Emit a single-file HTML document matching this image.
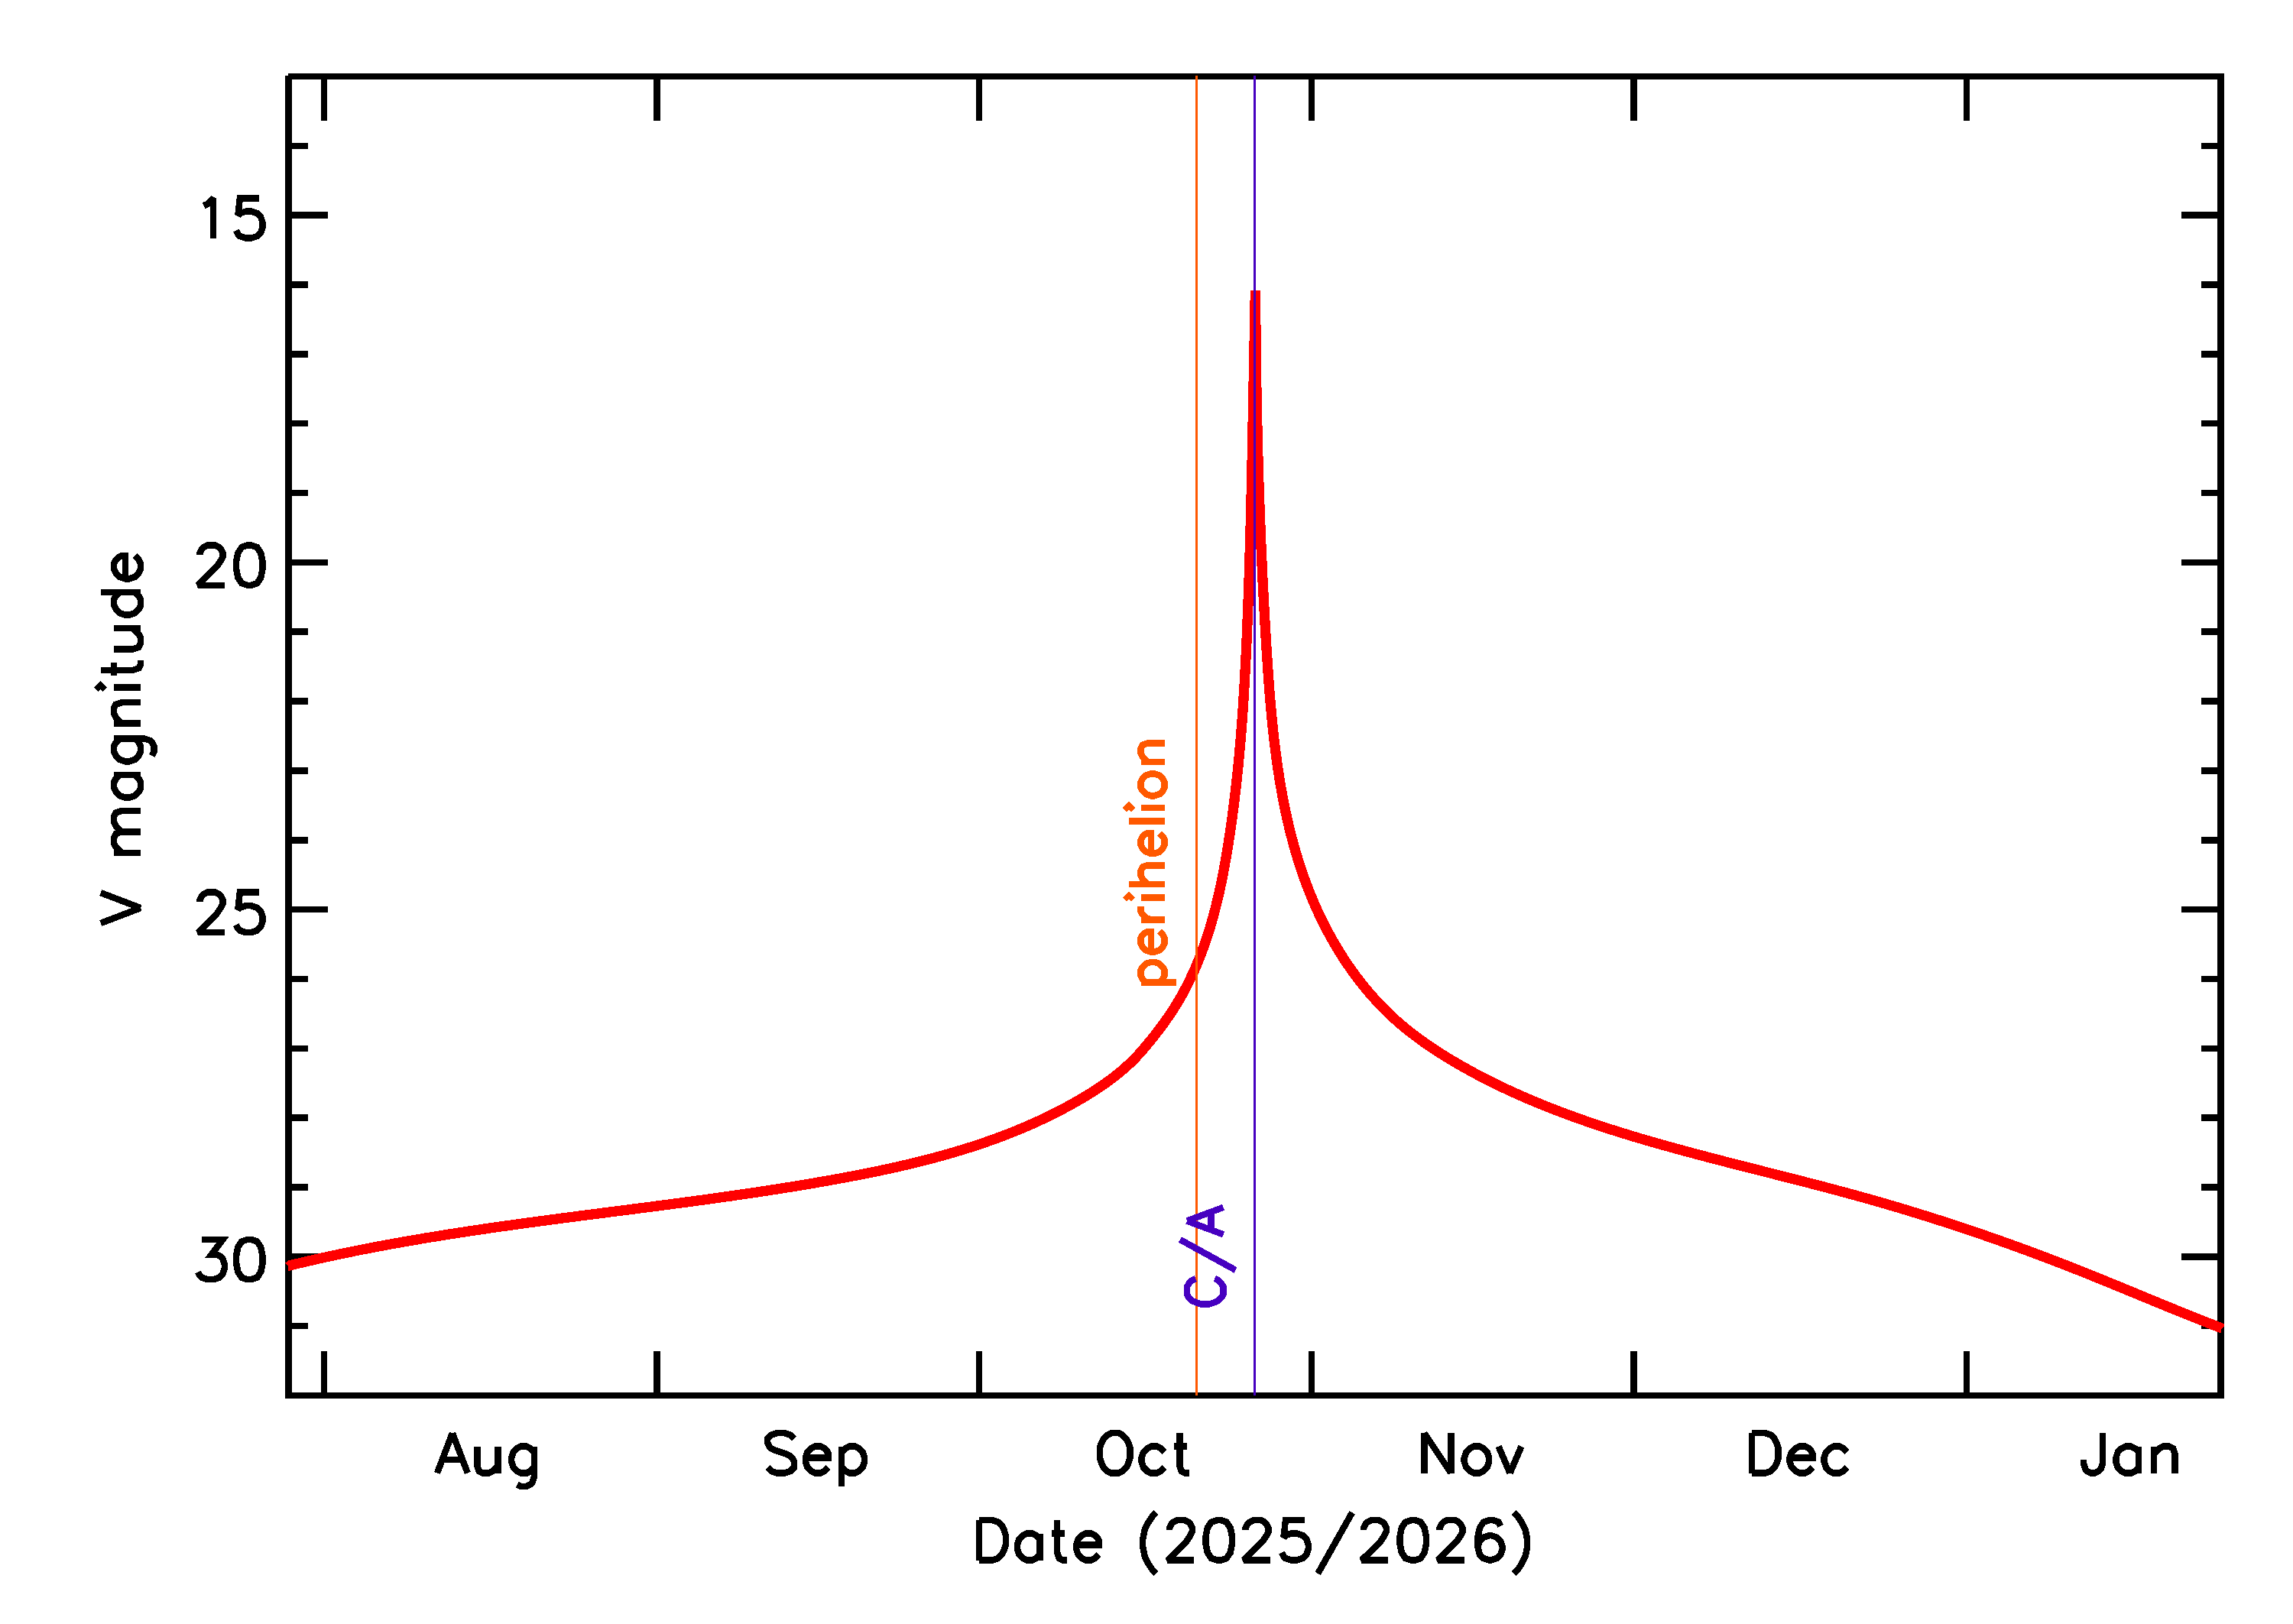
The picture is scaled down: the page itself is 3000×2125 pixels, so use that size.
<!DOCTYPE html>
<html><head><meta charset="utf-8"><title>V magnitude</title>
<style>html,body{margin:0;padding:0;background:#fff;overflow:hidden;}svg{display:block;}</style></head>
<body><svg width="3000" height="2125" viewBox="0 0 3000 2125" shape-rendering="crispEdges">
<rect x="0" y="0" width="3000" height="2125" fill="#fff"/>
<g fill="#000"><rect x="377.00" y="95.75" width="2532.75" height="8.50" fill="#000"/><rect x="373.25" y="1821.75" width="2536.50" height="8.50" fill="#000"/><rect x="373.25" y="99.00" width="8.50" height="1731.25" fill="#000"/><rect x="2901.25" y="95.75" width="8.50" height="1734.50" fill="#000"/><rect x="419.75" y="100.00" width="8.50" height="58.00" fill="#000"/><rect x="419.75" y="1768.00" width="8.50" height="58.00" fill="#000"/><rect x="855.18" y="100.00" width="8.50" height="58.00" fill="#000"/><rect x="855.18" y="1768.00" width="8.50" height="58.00" fill="#000"/><rect x="1276.56" y="100.00" width="8.50" height="58.00" fill="#000"/><rect x="1276.56" y="1768.00" width="8.50" height="58.00" fill="#000"/><rect x="1711.98" y="100.00" width="8.50" height="58.00" fill="#000"/><rect x="1711.98" y="1768.00" width="8.50" height="58.00" fill="#000"/><rect x="2133.36" y="100.00" width="8.50" height="58.00" fill="#000"/><rect x="2133.36" y="1768.00" width="8.50" height="58.00" fill="#000"/><rect x="2568.79" y="100.00" width="8.50" height="58.00" fill="#000"/><rect x="2568.79" y="1768.00" width="8.50" height="58.00" fill="#000"/><rect x="377.50" y="186.59" width="25.50" height="8.50" fill="#000"/><rect x="2880.00" y="186.59" width="25.50" height="8.50" fill="#000"/><rect x="377.50" y="277.43" width="51.50" height="8.50" fill="#000"/><rect x="2854.00" y="277.43" width="51.50" height="8.50" fill="#000"/><rect x="377.50" y="368.28" width="25.50" height="8.50" fill="#000"/><rect x="2880.00" y="368.28" width="25.50" height="8.50" fill="#000"/><rect x="377.50" y="459.12" width="25.50" height="8.50" fill="#000"/><rect x="2880.00" y="459.12" width="25.50" height="8.50" fill="#000"/><rect x="377.50" y="549.96" width="25.50" height="8.50" fill="#000"/><rect x="2880.00" y="549.96" width="25.50" height="8.50" fill="#000"/><rect x="377.50" y="640.80" width="25.50" height="8.50" fill="#000"/><rect x="2880.00" y="640.80" width="25.50" height="8.50" fill="#000"/><rect x="377.50" y="731.64" width="51.50" height="8.50" fill="#000"/><rect x="2854.00" y="731.64" width="51.50" height="8.50" fill="#000"/><rect x="377.50" y="822.49" width="25.50" height="8.50" fill="#000"/><rect x="2880.00" y="822.49" width="25.50" height="8.50" fill="#000"/><rect x="377.50" y="913.33" width="25.50" height="8.50" fill="#000"/><rect x="2880.00" y="913.33" width="25.50" height="8.50" fill="#000"/><rect x="377.50" y="1004.17" width="25.50" height="8.50" fill="#000"/><rect x="2880.00" y="1004.17" width="25.50" height="8.50" fill="#000"/><rect x="377.50" y="1095.01" width="25.50" height="8.50" fill="#000"/><rect x="2880.00" y="1095.01" width="25.50" height="8.50" fill="#000"/><rect x="377.50" y="1185.86" width="51.50" height="8.50" fill="#000"/><rect x="2854.00" y="1185.86" width="51.50" height="8.50" fill="#000"/><rect x="377.50" y="1276.70" width="25.50" height="8.50" fill="#000"/><rect x="2880.00" y="1276.70" width="25.50" height="8.50" fill="#000"/><rect x="377.50" y="1367.54" width="25.50" height="8.50" fill="#000"/><rect x="2880.00" y="1367.54" width="25.50" height="8.50" fill="#000"/><rect x="377.50" y="1458.38" width="25.50" height="8.50" fill="#000"/><rect x="2880.00" y="1458.38" width="25.50" height="8.50" fill="#000"/><rect x="377.50" y="1549.22" width="25.50" height="8.50" fill="#000"/><rect x="2880.00" y="1549.22" width="25.50" height="8.50" fill="#000"/><rect x="377.50" y="1640.07" width="51.50" height="8.50" fill="#000"/><rect x="2854.00" y="1640.07" width="51.50" height="8.50" fill="#000"/><rect x="377.50" y="1730.91" width="25.50" height="8.50" fill="#000"/><rect x="2880.00" y="1730.91" width="25.50" height="8.50" fill="#000"/></g>
<path fill="none" stroke="#ff0000" stroke-width="13.3" stroke-linejoin="bevel" stroke-linecap="butt" d="M377.39 1656.27L380.45 1655.52L383.51 1654.78L386.57 1654.04L389.64 1653.31L392.70 1652.59L395.76 1651.86L398.83 1651.15L401.89 1650.44L404.96 1649.73L408.03 1649.03L411.09 1648.33L414.16 1647.64L417.23 1646.95L420.30 1646.27L423.37 1645.59L426.43 1644.91L429.50 1644.24L432.58 1643.58L435.65 1642.92L438.72 1642.26L441.79 1641.61L444.86 1640.96L447.94 1640.32L451.01 1639.68L454.08 1639.04L457.16 1638.41L460.23 1637.78L463.31 1637.16L466.39 1636.54L469.46 1635.93L472.54 1635.32L475.62 1634.71L478.70 1634.11L481.77 1633.51L484.85 1632.91L487.93 1632.32L491.01 1631.74L494.09 1631.15L497.17 1630.57L500.26 1630.00L503.34 1629.42L506.42 1628.85L509.50 1628.29L512.59 1627.73L515.67 1627.17L518.75 1626.61L521.84 1626.06L524.92 1625.51L528.01 1624.97L531.09 1624.42L534.18 1623.89L537.26 1623.35L540.35 1622.82L543.44 1622.29L546.52 1621.76L549.61 1621.24L552.70 1620.72L555.79 1620.20L558.88 1619.69L561.97 1619.18L565.06 1618.67L568.15 1618.17L571.24 1617.66L574.33 1617.16L577.42 1616.67L580.51 1616.17L583.60 1615.68L586.69 1615.19L589.79 1614.70L592.88 1614.22L595.97 1613.74L599.06 1613.26L602.16 1612.78L605.25 1612.31L608.35 1611.84L611.44 1611.37L614.53 1610.90L617.63 1610.44L620.73 1609.97L623.82 1609.51L626.92 1609.06L630.01 1608.60L633.11 1608.14L636.21 1607.69L639.30 1607.24L642.40 1606.79L645.50 1606.35L648.60 1605.90L651.69 1605.46L654.79 1605.02L657.89 1604.58L660.99 1604.14L664.09 1603.71L667.19 1603.27L670.29 1602.84L673.39 1602.41L676.49 1601.98L679.59 1601.55L682.69 1601.13L685.79 1600.70L688.89 1600.28L691.99 1599.86L695.09 1599.44L698.19 1599.02L701.29 1598.60L704.39 1598.18L707.49 1597.77L710.60 1597.35L713.70 1596.94L716.80 1596.53L719.90 1596.12L723.00 1595.70L726.11 1595.30L729.21 1594.89L732.31 1594.48L735.42 1594.07L738.52 1593.67L741.62 1593.26L744.73 1592.86L747.83 1592.45L750.93 1592.05L754.04 1591.65L757.14 1591.24L760.25 1590.84L763.35 1590.44L766.45 1590.04L769.56 1589.64L772.66 1589.24L775.77 1588.84L778.87 1588.44L781.98 1588.04L785.08 1587.65L788.19 1587.25L791.29 1586.85L794.40 1586.45L797.50 1586.05L800.61 1585.66L803.71 1585.26L806.82 1584.86L809.92 1584.46L813.03 1584.07L816.13 1583.67L819.24 1583.27L822.34 1582.87L825.45 1582.47L828.55 1582.07L831.66 1581.67L834.77 1581.27L837.87 1580.87L840.98 1580.47L844.08 1580.07L847.19 1579.67L850.29 1579.27L853.40 1578.87L856.50 1578.46L859.61 1578.06L862.71 1577.66L865.82 1577.25L868.92 1576.85L872.03 1576.44L875.14 1576.03L878.24 1575.62L881.35 1575.21L884.45 1574.80L887.56 1574.39L890.66 1573.98L893.77 1573.57L896.87 1573.15L899.98 1572.74L903.08 1572.32L906.19 1571.90L909.29 1571.48L912.39 1571.06L915.50 1570.64L918.60 1570.22L921.71 1569.80L924.81 1569.37L927.92 1568.94L931.02 1568.51L934.12 1568.08L937.23 1567.65L940.33 1567.22L943.43 1566.78L946.54 1566.35L949.64 1565.91L952.74 1565.47L955.85 1565.03L958.95 1564.58L962.05 1564.14L965.15 1563.69L968.26 1563.24L971.36 1562.79L974.46 1562.34L977.56 1561.88L980.66 1561.42L983.77 1560.96L986.87 1560.50L989.97 1560.04L993.07 1559.57L996.17 1559.10L999.27 1558.63L1002.37 1558.16L1005.47 1557.68L1008.57 1557.20L1011.67 1556.72L1014.77 1556.24L1017.87 1555.76L1020.97 1555.27L1024.07 1554.78L1027.17 1554.28L1030.26 1553.79L1033.36 1553.29L1036.46 1552.79L1039.56 1552.28L1042.66 1551.78L1045.75 1551.27L1048.85 1550.75L1051.95 1550.24L1055.04 1549.72L1058.14 1549.20L1061.23 1548.67L1064.33 1548.14L1067.42 1547.61L1070.52 1547.08L1073.61 1546.54L1076.71 1546.00L1079.80 1545.46L1082.90 1544.91L1085.99 1544.36L1089.08 1543.80L1092.18 1543.25L1095.27 1542.69L1098.36 1542.12L1101.45 1541.55L1104.54 1540.98L1107.63 1540.40L1110.72 1539.82L1113.81 1539.24L1116.90 1538.65L1119.99 1538.06L1123.08 1537.46L1126.16 1536.86L1129.25 1536.25L1132.33 1535.64L1135.41 1535.02L1138.49 1534.40L1141.57 1533.78L1144.65 1533.14L1147.73 1532.51L1150.81 1531.86L1153.88 1531.21L1156.96 1530.56L1160.03 1529.90L1163.10 1529.23L1166.17 1528.56L1169.23 1527.88L1172.30 1527.20L1175.36 1526.51L1178.42 1525.81L1181.48 1525.11L1184.54 1524.39L1187.59 1523.68L1190.65 1522.95L1193.70 1522.22L1196.75 1521.48L1199.79 1520.74L1202.84 1519.98L1205.88 1519.22L1208.92 1518.45L1211.95 1517.68L1214.99 1516.89L1218.02 1516.10L1221.05 1515.30L1224.07 1514.49L1227.10 1513.68L1230.12 1512.85L1233.14 1512.02L1236.15 1511.17L1239.16 1510.32L1242.17 1509.46L1245.17 1508.60L1248.18 1507.72L1251.17 1506.83L1254.17 1505.94L1257.16 1505.03L1260.15 1504.12L1263.13 1503.19L1266.12 1502.26L1269.09 1501.31L1272.07 1500.36L1275.04 1499.40L1278.00 1498.42L1280.97 1497.44L1283.93 1496.44L1286.88 1495.44L1289.83 1494.42L1292.78 1493.40L1295.72 1492.36L1298.66 1491.31L1301.59 1490.25L1304.52 1489.18L1307.45 1488.10L1310.37 1487.01L1313.29 1485.90L1316.20 1484.79L1319.11 1483.66L1322.01 1482.52L1324.91 1481.37L1327.80 1480.20L1330.69 1479.03L1333.57 1477.84L1336.45 1476.64L1339.33 1475.43L1342.19 1474.20L1345.06 1472.96L1347.92 1471.71L1350.77 1470.45L1353.62 1469.17L1356.46 1467.88L1359.30 1466.58L1362.13 1465.26L1364.96 1463.93L1367.78 1462.59L1370.59 1461.23L1373.40 1459.86L1376.20 1458.48L1379.00 1457.08L1381.79 1455.66L1384.58 1454.24L1387.36 1452.79L1390.14 1451.34L1392.90 1449.87L1395.67 1448.38L1398.42 1446.88L1401.17 1445.37L1403.91 1443.84L1406.65 1442.29L1409.38 1440.73L1412.11 1439.15L1414.82 1437.56L1417.53 1435.96L1420.24 1434.33L1422.93 1432.69L1425.62 1431.04L1428.29 1429.36L1430.95 1427.67L1433.60 1425.96L1436.24 1424.23L1438.86 1422.48L1441.47 1420.71L1444.07 1418.92L1446.64 1417.11L1449.20 1415.28L1451.74 1413.42L1454.26 1411.54L1456.76 1409.64L1459.24 1407.72L1461.70 1405.77L1464.13 1403.80L1466.54 1401.81L1468.92 1399.79L1471.28 1397.74L1473.62 1395.67L1475.92 1393.57L1478.20 1391.44L1480.44 1389.29L1482.66 1387.11L1484.85 1384.90L1487.00 1382.66L1489.12 1380.39L1491.21 1378.09L1493.27 1375.76L1495.31 1373.42L1497.34 1371.05L1499.35 1368.66L1501.35 1366.26L1503.35 1363.85L1505.34 1361.42L1507.31 1358.98L1509.27 1356.52L1511.23 1354.05L1513.16 1351.56L1515.09 1349.06L1517.00 1346.54L1518.89 1344.01L1520.77 1341.47L1522.63 1338.92L1524.47 1336.35L1526.29 1333.77L1528.10 1331.18L1529.88 1328.57L1531.64 1325.95L1533.38 1323.32L1535.10 1320.68L1536.79 1318.02L1538.46 1315.35L1540.10 1312.67L1541.72 1309.98L1543.31 1307.28L1544.88 1304.57L1546.42 1301.85L1547.94 1299.11L1549.43 1296.37L1550.90 1293.61L1552.34 1290.84L1553.76 1288.07L1555.16 1285.28L1556.54 1282.49L1557.89 1279.68L1559.22 1276.86L1560.53 1274.04L1561.82 1271.20L1563.08 1268.36L1564.33 1265.51L1565.55 1262.65L1566.75 1259.78L1567.93 1256.90L1569.09 1254.01L1570.24 1251.12L1571.36 1248.21L1572.46 1245.30L1573.54 1242.38L1574.61 1239.46L1575.65 1236.52L1576.68 1233.58L1577.69 1230.63L1578.68 1227.68L1579.65 1224.71L1580.61 1221.75L1581.55 1218.77L1582.47 1215.79L1583.38 1212.80L1584.27 1209.81L1585.14 1206.81L1586.00 1203.80L1586.84 1200.79L1587.67 1197.78L1588.49 1194.75L1589.28 1191.73L1590.07 1188.70L1590.84 1185.66L1591.59 1182.62L1592.34 1179.57L1593.07 1176.52L1593.78 1173.47L1594.49 1170.41L1595.18 1167.35L1595.86 1164.29L1596.52 1161.22L1597.18 1158.14L1597.82 1155.07L1598.46 1151.99L1599.08 1148.91L1599.69 1145.82L1600.29 1142.74L1600.88 1139.65L1601.47 1136.56L1602.04 1133.46L1602.60 1130.37L1603.15 1127.27L1603.70 1124.17L1604.24 1121.07L1604.76 1117.97L1605.28 1114.86L1605.80 1111.76L1606.30 1108.66L1606.80 1105.55L1607.29 1102.44L1607.78 1099.34L1608.26 1096.23L1608.73 1093.12L1609.20 1090.01L1609.66 1086.91L1610.11 1083.80L1610.56 1080.69L1611.00 1077.58L1611.43 1074.47L1611.86 1071.36L1612.29 1068.25L1612.70 1065.14L1613.12 1062.03L1613.52 1058.92L1613.92 1055.80L1614.32 1052.69L1614.71 1049.58L1615.09 1046.47L1615.47 1043.35L1615.84 1040.24L1616.21 1037.13L1616.57 1034.01L1616.93 1030.90L1617.28 1027.79L1617.62 1024.67L1617.96 1021.56L1618.30 1018.44L1618.63 1015.32L1618.96 1012.21L1619.28 1009.09L1619.60 1005.98L1619.91 1002.86L1620.21 999.74L1620.52 996.62L1620.81 993.51L1621.11 990.39L1621.40 987.27L1621.68 984.15L1621.96 981.03L1622.24 977.91L1622.51 974.80L1622.77 971.68L1623.04 968.56L1623.30 965.44L1623.55 962.32L1623.80 959.20L1624.05 956.07L1624.29 952.95L1624.53 949.83L1624.77 946.71L1625.00 943.59L1625.22 940.47L1625.45 937.34L1625.67 934.22L1625.89 931.10L1626.10 927.98L1626.31 924.85L1626.52 921.73L1626.72 918.61L1626.92 915.48L1627.12 912.36L1627.32 909.23L1627.51 906.11L1627.69 902.99L1627.88 899.86L1628.06 896.74L1628.24 893.61L1628.42 890.48L1628.59 887.36L1628.76 884.23L1628.93 881.11L1629.10 877.98L1629.26 874.86L1629.43 871.73L1629.58 868.60L1629.74 865.47L1629.90 862.35L1630.05 859.22L1630.20 856.09L1630.35 852.97L1630.49 849.84L1630.64 846.71L1630.78 843.58L1630.92 840.45L1631.06 837.33L1631.19 834.20L1631.33 831.07L1631.46 827.94L1631.59 824.81L1631.72 821.68L1631.85 818.55L1631.98 815.42L1632.10 812.29L1632.22 809.16L1632.35 806.03L1632.47 802.90L1632.59 799.77L1632.71 796.64L1632.83 793.51L1632.94 790.38L1633.06 787.25L1633.17 784.12L1633.28 780.99L1633.40 777.86L1633.51 774.73L1633.62 771.60L1633.72 768.47L1633.83 765.34L1633.94 762.21L1634.04 759.07L1634.15 755.94L1634.25 752.81L1634.35 749.68L1634.45 746.55L1634.55 743.42L1634.65 740.28L1634.75 737.15L1634.84 734.02L1634.94 730.89L1635.03 727.76L1635.13 724.62L1635.22 721.49L1635.31 718.36L1635.40 715.23L1635.49 712.09L1635.58 708.96L1635.67 705.83L1635.76 702.69L1635.84 699.56L1635.93 696.43L1636.01 693.30L1636.10 690.16L1636.18 687.03L1636.26 683.90L1636.34 680.76L1636.42 677.63L1636.50 674.50L1636.58 671.36L1636.66 668.23L1636.74 665.10L1636.82 661.96L1636.89 658.83L1636.97 655.70L1637.04 652.56L1637.12 649.43L1637.19 646.29L1637.26 643.16L1637.34 640.03L1637.41 636.89L1637.48 633.76L1637.55 630.63L1637.62 627.49L1637.69 624.36L1637.76 621.22L1637.83 618.09L1637.90 614.96L1637.96 611.82L1638.03 608.69L1638.10 605.55L1638.16 602.42L1638.23 599.29L1638.29 596.15L1638.36 593.02L1638.42 589.89L1638.49 586.75L1638.55 583.62L1638.61 580.48L1638.67 577.35L1638.74 574.22L1638.80 571.08L1638.86 567.95L1638.92 564.81L1638.98 561.68L1639.04 558.55L1639.10 555.41L1639.16 552.28L1639.22 549.15L1639.28 546.01L1639.34 542.88L1639.40 539.74L1639.46 536.61L1639.52 533.48L1639.58 530.34L1639.64 527.21L1639.70 524.08L1639.76 520.94L1639.81 517.81L1639.87 514.68L1639.93 511.54L1639.99 508.41L1640.05 505.28L1640.10 502.15L1640.16 499.01L1640.22 495.88L1640.28 492.75L1640.34 489.61L1640.39 486.48L1640.45 483.35L1640.51 480.22L1640.57 477.08L1640.62 473.95L1640.68 470.82L1640.74 467.69L1640.80 464.55L1640.86 461.42L1640.92 458.29L1640.97 455.16L1641.03 452.03L1641.09 448.89L1641.15 445.76L1641.21 442.63L1641.27 439.50L1641.33 436.37L1641.39 433.24L1641.45 430.11L1641.51 426.97L1641.57 423.84L1641.63 420.71L1641.69 417.58L1641.75 414.45L1641.81 411.32L1641.88 408.19L1641.94 405.06L1642.00 401.93L1642.06 398.80L1642.13 395.67L1642.19 392.54L1642.26 389.41L1642.32 386.28L1642.39 383.15L1642.45 380.02L1642.60 382.81L1642.61 385.93L1642.63 389.05L1642.64 392.16L1642.66 395.28L1642.68 398.39L1642.69 401.50L1642.71 404.62L1642.73 407.73L1642.75 410.84L1642.77 413.95L1642.80 417.06L1642.82 420.16L1642.84 423.27L1642.87 426.37L1642.90 429.48L1642.92 432.58L1642.95 435.68L1642.98 438.79L1643.01 441.89L1643.04 444.99L1643.07 448.09L1643.11 451.18L1643.14 454.28L1643.18 457.38L1643.21 460.47L1643.25 463.57L1643.29 466.66L1643.33 469.76L1643.37 472.85L1643.41 475.94L1643.45 479.03L1643.49 482.12L1643.54 485.21L1643.58 488.30L1643.63 491.39L1643.67 494.48L1643.72 497.56L1643.77 500.65L1643.82 503.74L1643.87 506.82L1643.92 509.91L1643.98 512.99L1644.03 516.07L1644.09 519.16L1644.14 522.24L1644.20 525.32L1644.26 528.40L1644.32 531.48L1644.38 534.56L1644.44 537.64L1644.51 540.72L1644.57 543.80L1644.63 546.88L1644.70 549.96L1644.77 553.03L1644.84 556.11L1644.91 559.19L1644.98 562.26L1645.05 565.34L1645.12 568.41L1645.20 571.49L1645.27 574.56L1645.35 577.64L1645.43 580.71L1645.50 583.79L1645.58 586.86L1645.67 589.93L1645.75 593.01L1645.83 596.08L1645.92 599.15L1646.00 602.22L1646.09 605.29L1646.18 608.37L1646.26 611.44L1646.36 614.51L1646.45 617.58L1646.54 620.65L1646.63 623.72L1646.73 626.79L1646.83 629.86L1646.92 632.94L1647.02 636.01L1647.12 639.08L1647.22 642.15L1647.33 645.22L1647.43 648.29L1647.53 651.36L1647.64 654.43L1647.75 657.50L1647.86 660.57L1647.97 663.64L1648.08 666.71L1648.19 669.78L1648.30 672.85L1648.42 675.92L1648.54 678.99L1648.65 682.06L1648.77 685.13L1648.89 688.21L1649.01 691.28L1649.14 694.35L1649.26 697.42L1649.39 700.49L1649.51 703.56L1649.64 706.64L1649.77 709.71L1649.90 712.78L1650.03 715.85L1650.17 718.93L1650.30 722.00L1650.44 725.07L1650.57 728.15L1650.71 731.22L1650.85 734.30L1651.00 737.37L1651.14 740.45L1651.28 743.52L1651.43 746.60L1651.57 749.67L1651.72 752.75L1651.87 755.83L1652.02 758.91L1652.18 761.98L1652.33 765.06L1652.48 768.14L1652.64 771.22L1652.80 774.30L1652.96 777.38L1653.12 780.46L1653.28 783.54L1653.45 786.63L1653.61 789.71L1653.78 792.79L1653.94 795.87L1654.11 798.96L1654.28 802.04L1654.46 805.13L1654.63 808.22L1654.81 811.30L1654.98 814.39L1655.16 817.48L1655.34 820.57L1655.52 823.66L1655.70 826.75L1655.89 829.84L1656.07 832.93L1656.26 836.02L1656.45 839.11L1656.64 842.21L1656.83 845.30L1657.02 848.40L1657.22 851.49L1657.41 854.59L1657.61 857.69L1657.81 860.78L1658.01 863.88L1658.22 866.98L1658.42 870.08L1658.63 873.18L1658.84 876.28L1659.06 879.38L1659.28 882.48L1659.50 885.58L1659.72 888.68L1659.95 891.79L1660.18 894.89L1660.41 897.99L1660.65 901.09L1660.89 904.19L1661.14 907.29L1661.39 910.39L1661.64 913.49L1661.90 916.59L1662.17 919.68L1662.43 922.78L1662.71 925.88L1662.98 928.97L1663.27 932.07L1663.56 935.16L1663.85 938.26L1664.15 941.35L1664.46 944.44L1664.77 947.53L1665.08 950.62L1665.41 953.71L1665.74 956.80L1666.07 959.88L1666.42 962.97L1666.76 966.05L1667.12 969.13L1667.48 972.21L1667.85 975.29L1668.23 978.36L1668.62 981.44L1669.01 984.51L1669.41 987.58L1669.82 990.65L1670.23 993.72L1670.66 996.78L1671.09 999.84L1671.53 1002.91L1671.98 1005.96L1672.44 1009.02L1672.90 1012.07L1673.38 1015.12L1673.86 1018.17L1674.36 1021.22L1674.86 1024.26L1675.37 1027.30L1675.89 1030.34L1676.43 1033.38L1676.97 1036.41L1677.52 1039.44L1678.08 1042.47L1678.66 1045.49L1679.24 1048.51L1679.83 1051.53L1680.44 1054.54L1681.05 1057.55L1681.68 1060.56L1682.31 1063.56L1682.96 1066.57L1683.62 1069.56L1684.30 1072.56L1684.98 1075.55L1685.67 1078.53L1686.38 1081.52L1687.10 1084.49L1687.83 1087.47L1688.58 1090.44L1689.33 1093.41L1690.10 1096.37L1690.89 1099.33L1691.68 1102.28L1692.49 1105.23L1693.31 1108.18L1694.15 1111.12L1694.99 1114.06L1695.86 1116.99L1696.73 1119.92L1697.62 1122.84L1698.53 1125.76L1699.45 1128.68L1700.38 1131.59L1701.33 1134.49L1702.29 1137.39L1703.27 1140.28L1704.26 1143.17L1705.26 1146.06L1706.29 1148.94L1707.32 1151.81L1708.38 1154.68L1709.44 1157.55L1710.53 1160.40L1711.63 1163.26L1712.75 1166.10L1713.88 1168.95L1715.03 1171.78L1716.19 1174.61L1717.37 1177.44L1718.57 1180.26L1719.79 1183.07L1721.02 1185.88L1722.27 1188.68L1723.54 1191.47L1724.82 1194.26L1726.13 1197.04L1727.45 1199.82L1728.78 1202.59L1730.14 1205.35L1731.51 1208.11L1732.90 1210.86L1734.31 1213.60L1735.74 1216.33L1737.18 1219.06L1738.65 1221.78L1740.13 1224.49L1741.62 1227.19L1743.14 1229.88L1744.67 1232.57L1746.22 1235.24L1747.79 1237.90L1749.38 1240.56L1750.98 1243.20L1752.61 1245.83L1754.25 1248.46L1755.90 1251.07L1757.58 1253.67L1759.27 1256.26L1760.99 1258.84L1762.71 1261.41L1764.46 1263.96L1766.23 1266.50L1768.01 1269.03L1769.81 1271.55L1771.63 1274.05L1773.46 1276.54L1775.32 1279.02L1777.19 1281.48L1779.08 1283.93L1780.99 1286.36L1782.91 1288.78L1784.85 1291.19L1786.81 1293.58L1788.79 1295.95L1790.79 1298.31L1792.80 1300.65L1794.83 1302.98L1796.88 1305.29L1798.95 1307.58L1801.04 1309.86L1803.14 1312.12L1805.26 1314.36L1807.40 1316.59L1809.55 1318.79L1811.73 1320.98L1813.92 1323.15L1816.13 1325.31L1818.36 1327.44L1820.60 1329.55L1822.87 1331.65L1825.15 1333.73L1827.45 1335.78L1829.76 1337.82L1832.10 1339.84L1834.45 1341.83L1836.81 1343.81L1839.20 1345.77L1841.59 1347.72L1844.01 1349.64L1846.43 1351.55L1848.88 1353.44L1851.33 1355.31L1853.80 1357.16L1856.29 1359.00L1858.78 1360.82L1861.29 1362.63L1863.81 1364.41L1866.35 1366.19L1868.89 1367.94L1871.45 1369.69L1874.02 1371.41L1876.59 1373.12L1879.18 1374.82L1881.78 1376.50L1884.38 1378.17L1887.00 1379.83L1889.62 1381.47L1892.26 1383.10L1894.90 1384.71L1897.54 1386.31L1900.20 1387.90L1902.86 1389.48L1905.53 1391.04L1908.20 1392.59L1910.88 1394.14L1913.56 1395.67L1916.25 1397.18L1918.95 1398.69L1921.65 1400.19L1924.35 1401.67L1927.06 1403.14L1929.78 1404.61L1932.50 1406.06L1935.22 1407.50L1937.95 1408.93L1940.69 1410.35L1943.43 1411.76L1946.17 1413.15L1948.92 1414.54L1951.68 1415.92L1954.44 1417.29L1957.20 1418.64L1959.97 1419.99L1962.74 1421.33L1965.52 1422.66L1968.30 1423.97L1971.09 1425.28L1973.88 1426.58L1976.67 1427.87L1979.47 1429.15L1982.27 1430.42L1985.08 1431.68L1987.89 1432.93L1990.70 1434.17L1993.52 1435.41L1996.35 1436.63L1999.17 1437.85L2002.00 1439.05L2004.84 1440.25L2007.67 1441.44L2010.52 1442.62L2013.36 1443.80L2016.21 1444.96L2019.06 1446.12L2021.92 1447.26L2024.78 1448.40L2027.64 1449.54L2030.51 1450.66L2033.38 1451.78L2036.25 1452.89L2039.13 1453.99L2042.01 1455.08L2044.89 1456.17L2047.77 1457.24L2050.66 1458.31L2053.55 1459.38L2056.45 1460.44L2059.35 1461.48L2062.25 1462.53L2065.15 1463.56L2068.05 1464.59L2070.96 1465.61L2073.87 1466.63L2076.79 1467.64L2079.70 1468.64L2082.62 1469.64L2085.54 1470.63L2088.47 1471.61L2091.39 1472.59L2094.32 1473.56L2097.25 1474.53L2100.19 1475.48L2103.12 1476.44L2106.06 1477.39L2109.00 1478.33L2111.94 1479.27L2114.88 1480.20L2117.83 1481.12L2120.78 1482.04L2123.72 1482.96L2126.68 1483.87L2129.63 1484.78L2132.58 1485.68L2135.54 1486.57L2138.50 1487.46L2141.46 1488.35L2144.42 1489.23L2147.38 1490.11L2150.34 1490.98L2153.31 1491.85L2156.28 1492.71L2159.24 1493.57L2162.21 1494.43L2165.18 1495.28L2168.15 1496.13L2171.13 1496.97L2174.10 1497.81L2177.08 1498.65L2180.05 1499.48L2183.03 1500.31L2186.00 1501.14L2188.98 1501.96L2191.96 1502.78L2194.94 1503.60L2197.92 1504.41L2200.90 1505.22L2203.89 1506.03L2206.87 1506.83L2209.85 1507.64L2212.83 1508.43L2215.82 1509.23L2218.80 1510.03L2221.79 1510.82L2224.77 1511.61L2227.76 1512.39L2230.74 1513.18L2233.73 1513.96L2236.71 1514.74L2239.70 1515.52L2242.68 1516.30L2245.67 1517.07L2248.66 1517.85L2251.64 1518.62L2254.63 1519.39L2257.62 1520.16L2260.60 1520.93L2263.59 1521.69L2266.58 1522.46L2269.57 1523.22L2272.55 1523.99L2275.54 1524.75L2278.53 1525.51L2281.52 1526.27L2284.50 1527.03L2287.49 1527.79L2290.48 1528.55L2293.47 1529.30L2296.45 1530.06L2299.44 1530.82L2302.43 1531.57L2305.42 1532.33L2308.40 1533.09L2311.39 1533.84L2314.38 1534.60L2317.36 1535.36L2320.35 1536.11L2323.34 1536.87L2326.32 1537.63L2329.31 1538.38L2332.29 1539.14L2335.28 1539.90L2338.26 1540.66L2341.25 1541.42L2344.23 1542.18L2347.22 1542.94L2350.20 1543.71L2353.18 1544.47L2356.17 1545.23L2359.15 1546.00L2362.13 1546.77L2365.11 1547.54L2368.09 1548.31L2371.08 1549.08L2374.06 1549.85L2377.04 1550.63L2380.02 1551.40L2382.99 1552.18L2385.97 1552.96L2388.95 1553.75L2391.93 1554.53L2394.91 1555.32L2397.88 1556.11L2400.86 1556.90L2403.83 1557.69L2406.81 1558.49L2409.78 1559.29L2412.75 1560.09L2415.73 1560.89L2418.70 1561.70L2421.67 1562.51L2424.64 1563.32L2427.61 1564.14L2430.58 1564.95L2433.55 1565.78L2436.52 1566.60L2439.48 1567.43L2442.45 1568.26L2445.41 1569.10L2448.38 1569.94L2451.34 1570.78L2454.30 1571.62L2457.26 1572.47L2460.23 1573.32L2463.19 1574.18L2466.15 1575.04L2469.10 1575.90L2472.06 1576.77L2475.02 1577.64L2477.97 1578.51L2480.93 1579.38L2483.88 1580.26L2486.84 1581.14L2489.79 1582.03L2492.74 1582.92L2495.69 1583.81L2498.64 1584.71L2501.59 1585.61L2504.54 1586.51L2507.48 1587.41L2510.43 1588.32L2513.37 1589.24L2516.32 1590.15L2519.26 1591.07L2522.20 1591.99L2525.14 1592.92L2528.08 1593.85L2531.02 1594.78L2533.96 1595.72L2536.90 1596.65L2539.84 1597.60L2542.77 1598.54L2545.71 1599.49L2548.64 1600.44L2551.57 1601.40L2554.50 1602.36L2557.43 1603.32L2560.36 1604.28L2563.29 1605.25L2566.22 1606.22L2569.14 1607.20L2572.07 1608.17L2574.99 1609.15L2577.92 1610.14L2580.84 1611.13L2583.76 1612.12L2586.68 1613.11L2589.60 1614.11L2592.52 1615.11L2595.43 1616.11L2598.35 1617.12L2601.26 1618.13L2604.18 1619.14L2607.09 1620.16L2610.00 1621.18L2612.91 1622.20L2615.82 1623.22L2618.73 1624.25L2621.63 1625.29L2624.54 1626.32L2627.45 1627.36L2630.35 1628.40L2633.25 1629.45L2636.15 1630.49L2639.05 1631.54L2641.95 1632.60L2644.85 1633.66L2647.74 1634.72L2650.64 1635.78L2653.53 1636.85L2656.43 1637.92L2659.32 1638.99L2662.21 1640.07L2665.10 1641.14L2667.99 1642.23L2670.87 1643.31L2673.76 1644.40L2676.64 1645.49L2679.53 1646.59L2682.41 1647.68L2685.29 1648.78L2688.17 1649.89L2691.05 1651.00L2693.92 1652.11L2696.80 1653.22L2699.67 1654.33L2702.55 1655.45L2705.42 1656.58L2708.29 1657.70L2711.16 1658.83L2714.02 1659.96L2716.89 1661.09L2719.76 1662.23L2722.62 1663.37L2725.48 1664.51L2728.35 1665.66L2731.21 1666.81L2734.07 1667.96L2736.93 1669.11L2739.78 1670.26L2742.64 1671.42L2745.50 1672.58L2748.35 1673.74L2751.21 1674.90L2754.06 1676.06L2756.92 1677.23L2759.77 1678.39L2762.62 1679.56L2765.48 1680.73L2768.33 1681.90L2771.18 1683.07L2774.03 1684.24L2776.88 1685.42L2779.73 1686.59L2782.58 1687.76L2785.43 1688.94L2788.28 1690.12L2791.13 1691.29L2793.98 1692.47L2796.83 1693.64L2799.68 1694.82L2802.53 1696.00L2805.38 1697.17L2808.22 1698.35L2811.07 1699.52L2813.92 1700.70L2816.78 1701.87L2819.63 1703.05L2822.48 1704.22L2825.33 1705.39L2828.18 1706.56L2831.03 1707.73L2833.89 1708.90L2836.74 1710.07L2839.59 1711.24L2842.45 1712.40L2845.31 1713.57L2848.16 1714.73L2851.02 1715.89L2853.88 1717.05L2856.74 1718.20L2859.60 1719.36L2862.46 1720.51L2865.32 1721.66L2868.18 1722.81L2871.05 1723.95L2873.91 1725.10L2876.78 1726.24L2879.65 1727.38L2882.52 1728.51L2885.39 1729.64L2888.26 1730.77L2891.13 1731.90L2894.01 1733.02L2896.88 1734.14L2899.76 1735.25L2902.64 1736.37L2905.52 1737.47"/>
<path fill="#ff0000" d="M373 1652.6L377.5 1649.5L379.5 1649.5L379.5 1663L376.8 1663L376.8 1656.3ZM2901 1729.5L2910 1732L2910 1735L2906 1739L2906 1744L2903 1744Z"/>
<rect x="1640" y="99" width="3" height="1727" fill="#4600c0"/>
<rect x="1564" y="99" width="3" height="1727" fill="#ff5800"/>
<path fill="none" stroke="#000" stroke-width="8.5" stroke-linejoin="miter" stroke-miterlimit="2.4" stroke-linecap="butt" d="M266.54 269.25L271.52 266.76L278.99 259.29L278.99 311.58M338.75 259.29L313.85 259.29L311.36 281.70L313.85 279.21L321.32 276.72L328.79 276.72L336.26 279.21L341.24 284.19L343.73 291.66L343.73 296.64L341.24 304.11L336.26 309.09L328.79 311.58L321.32 311.58L313.85 309.09L311.36 306.60L308.87 301.62M261.56 725.95L261.56 723.46L264.05 718.48L266.54 715.99L271.52 713.50L281.48 713.50L286.46 715.99L288.95 718.48L291.44 723.46L291.44 728.44L288.95 733.42L283.97 740.89L259.07 765.79L293.93 765.79M323.81 713.50L316.34 715.99L311.36 723.46L308.87 735.91L308.87 743.38L311.36 755.83L316.34 763.30L323.81 765.79L328.79 765.79L336.26 763.30L341.24 755.83L343.73 743.38L343.73 735.91L341.24 723.46L336.26 715.99L328.79 713.50ZM261.56 1180.17L261.56 1177.68L264.05 1172.70L266.54 1170.21L271.52 1167.72L281.48 1167.72L286.46 1170.21L288.95 1172.70L291.44 1177.68L291.44 1182.66L288.95 1187.64L283.97 1195.11L259.07 1220.01L293.93 1220.01M338.75 1167.72L313.85 1167.72L311.36 1190.13L313.85 1187.64L321.32 1185.15L328.79 1185.15L336.26 1187.64L341.24 1192.62L343.73 1200.09L343.73 1205.07L341.24 1212.54L336.26 1217.52L328.79 1220.01L321.32 1220.01L313.85 1217.52L311.36 1215.03L308.87 1210.05M264.05 1621.93L291.44 1621.93L276.50 1641.85L283.97 1641.85L288.95 1644.34L291.44 1646.83L293.93 1654.30L293.93 1659.28L291.44 1666.75L286.46 1671.73L278.99 1674.22L271.52 1674.22L264.05 1671.73L261.56 1669.24L259.07 1664.26M323.81 1621.93L316.34 1624.42L311.36 1631.89L308.87 1644.34L308.87 1651.81L311.36 1664.26L316.34 1671.73L323.81 1674.22L328.79 1674.22L336.26 1671.73L341.24 1664.26L343.73 1651.81L343.73 1644.34L341.24 1631.89L336.26 1624.42L328.79 1621.93ZM591.90 1875.21L571.98 1927.50M591.90 1875.21L611.82 1927.50M579.45 1910.07L604.35 1910.07M624.27 1892.64L624.27 1917.54L626.76 1925.01L631.74 1927.50L639.21 1927.50L644.19 1925.01L651.66 1917.54M651.66 1892.64L651.66 1927.50M698.97 1892.64L698.97 1932.48L696.48 1939.95L693.99 1942.44L689.01 1944.93L681.54 1944.93L676.56 1942.44M698.97 1900.11L693.99 1895.13L689.01 1892.64L681.54 1892.64L676.56 1895.13L671.58 1900.11L669.09 1907.58L669.09 1912.56L671.58 1920.03L676.56 1925.01L681.54 1927.50L689.01 1927.50L693.99 1925.01L698.97 1920.03M1038.98 1882.68L1034.00 1877.70L1026.53 1875.21L1016.57 1875.21L1009.10 1877.70L1004.12 1882.68L1004.12 1887.66L1006.61 1892.64L1009.10 1895.13L1014.08 1897.62L1029.02 1902.60L1034.00 1905.09L1036.49 1907.58L1038.98 1912.56L1038.98 1920.03L1034.00 1925.01L1026.53 1927.50L1016.57 1927.50L1009.10 1925.01L1004.12 1920.03M1053.92 1907.58L1083.80 1907.58L1083.80 1902.60L1081.31 1897.62L1078.82 1895.13L1073.84 1892.64L1066.37 1892.64L1061.39 1895.13L1056.41 1900.11L1053.92 1907.58L1053.92 1912.56L1056.41 1920.03L1061.39 1925.01L1066.37 1927.50L1073.84 1927.50L1078.82 1925.01L1083.80 1920.03M1101.23 1892.64L1101.23 1944.93M1101.23 1900.11L1106.21 1895.13L1111.19 1892.64L1118.66 1892.64L1123.64 1895.13L1128.62 1900.11L1131.11 1907.58L1131.11 1912.56L1128.62 1920.03L1123.64 1925.01L1118.66 1927.50L1111.19 1927.50L1106.21 1925.01L1101.23 1920.03M1453.69 1875.21L1448.71 1877.70L1443.73 1882.68L1441.24 1887.66L1438.75 1895.13L1438.75 1907.58L1441.24 1915.05L1443.73 1920.03L1448.71 1925.01L1453.69 1927.50L1463.65 1927.50L1468.63 1925.01L1473.61 1920.03L1476.10 1915.05L1478.59 1907.58L1478.59 1895.13L1476.10 1887.66L1473.61 1882.68L1468.63 1877.70L1463.65 1875.21ZM1523.41 1900.11L1518.43 1895.13L1513.45 1892.64L1505.98 1892.64L1501.00 1895.13L1496.02 1900.11L1493.53 1907.58L1493.53 1912.56L1496.02 1920.03L1501.00 1925.01L1505.98 1927.50L1513.45 1927.50L1518.43 1925.01L1523.41 1920.03M1543.33 1875.21L1543.33 1917.54L1545.82 1925.01L1550.80 1927.50L1555.78 1927.50M1535.86 1892.64L1553.29 1892.64M1863.42 1875.21L1863.42 1927.50M1863.42 1875.21L1898.28 1927.50M1898.28 1875.21L1898.28 1927.50M1928.16 1892.64L1923.18 1895.13L1918.20 1900.11L1915.71 1907.58L1915.71 1912.56L1918.20 1920.03L1923.18 1925.01L1928.16 1927.50L1935.63 1927.50L1940.61 1925.01L1945.59 1920.03L1948.08 1912.56L1948.08 1907.58L1945.59 1900.11L1940.61 1895.13L1935.63 1892.64ZM1960.53 1892.64L1975.47 1927.50M1990.41 1892.64L1975.47 1927.50M2291.82 1875.21L2291.82 1927.50M2291.82 1875.21L2309.25 1875.21L2316.72 1877.70L2321.70 1882.68L2324.19 1887.66L2326.68 1895.13L2326.68 1907.58L2324.19 1915.05L2321.70 1920.03L2316.72 1925.01L2309.25 1927.50L2291.82 1927.50M2341.62 1907.58L2371.50 1907.58L2371.50 1902.60L2369.01 1897.62L2366.52 1895.13L2361.54 1892.64L2354.07 1892.64L2349.09 1895.13L2344.11 1900.11L2341.62 1907.58L2341.62 1912.56L2344.11 1920.03L2349.09 1925.01L2354.07 1927.50L2361.54 1927.50L2366.52 1925.01L2371.50 1920.03M2416.32 1900.11L2411.34 1895.13L2406.36 1892.64L2398.89 1892.64L2393.91 1895.13L2388.93 1900.11L2386.44 1907.58L2386.44 1912.56L2388.93 1920.03L2393.91 1925.01L2398.89 1927.50L2406.36 1927.50L2411.34 1925.01L2416.32 1920.03M2750.90 1875.21L2750.90 1915.05L2748.41 1922.52L2745.92 1925.01L2740.94 1927.50L2735.96 1927.50L2730.98 1925.01L2728.49 1922.52L2726.00 1915.05L2726.00 1910.07M2798.21 1892.64L2798.21 1927.50M2798.21 1900.11L2793.23 1895.13L2788.25 1892.64L2780.78 1892.64L2775.80 1895.13L2770.82 1900.11L2768.33 1907.58L2768.33 1912.56L2770.82 1920.03L2775.80 1925.01L2780.78 1927.50L2788.25 1927.50L2793.23 1925.01L2798.21 1920.03M2818.13 1892.64L2818.13 1927.50M2818.13 1902.60L2825.60 1895.13L2830.58 1892.64L2838.05 1892.64L2843.03 1895.13L2845.52 1902.60L2845.52 1927.50M1281.04 1989.21L1281.04 2041.50M1281.04 1989.21L1298.47 1989.21L1305.94 1991.70L1310.92 1996.68L1313.41 2001.66L1315.90 2009.13L1315.90 2021.58L1313.41 2029.05L1310.92 2034.03L1305.94 2039.01L1298.47 2041.50L1281.04 2041.50M1360.72 2006.64L1360.72 2041.50M1360.72 2014.11L1355.74 2009.13L1350.76 2006.64L1343.29 2006.64L1338.31 2009.13L1333.33 2014.11L1330.84 2021.58L1330.84 2026.56L1333.33 2034.03L1338.31 2039.01L1343.29 2041.50L1350.76 2041.50L1355.74 2039.01L1360.72 2034.03M1383.13 1989.21L1383.13 2031.54L1385.62 2039.01L1390.60 2041.50L1395.58 2041.50M1375.66 2006.64L1393.09 2006.64M1408.03 2021.58L1437.91 2021.58L1437.91 2016.60L1435.42 2011.62L1432.93 2009.13L1427.95 2006.64L1420.48 2006.64L1415.50 2009.13L1410.52 2014.11L1408.03 2021.58L1408.03 2026.56L1410.52 2034.03L1415.50 2039.01L1420.48 2041.50L1427.95 2041.50L1432.93 2039.01L1437.91 2034.03M1512.61 1979.25L1507.63 1984.23L1502.65 1991.70L1497.67 2001.66L1495.18 2014.11L1495.18 2024.07L1497.67 2036.52L1502.65 2046.48L1507.63 2053.95L1512.61 2058.93M1530.04 2001.66L1530.04 1999.17L1532.53 1994.19L1535.02 1991.70L1540.00 1989.21L1549.96 1989.21L1554.94 1991.70L1557.43 1994.19L1559.92 1999.17L1559.92 2004.15L1557.43 2009.13L1552.45 2016.60L1527.55 2041.50L1562.41 2041.50M1592.29 1989.21L1584.82 1991.70L1579.84 1999.17L1577.35 2011.62L1577.35 2019.09L1579.84 2031.54L1584.82 2039.01L1592.29 2041.50L1597.27 2041.50L1604.74 2039.01L1609.72 2031.54L1612.21 2019.09L1612.21 2011.62L1609.72 1999.17L1604.74 1991.70L1597.27 1989.21ZM1629.64 2001.66L1629.64 1999.17L1632.13 1994.19L1634.62 1991.70L1639.60 1989.21L1649.56 1989.21L1654.54 1991.70L1657.03 1994.19L1659.52 1999.17L1659.52 2004.15L1657.03 2009.13L1652.05 2016.60L1627.15 2041.50L1662.01 2041.50M1706.83 1989.21L1681.93 1989.21L1679.44 2011.62L1681.93 2009.13L1689.40 2006.64L1696.87 2006.64L1704.34 2009.13L1709.32 2014.11L1711.81 2021.58L1711.81 2026.56L1709.32 2034.03L1704.34 2039.01L1696.87 2041.50L1689.40 2041.50L1681.93 2039.01L1679.44 2036.52L1676.95 2031.54M1769.08 1979.25L1724.26 2058.93M1784.02 2001.66L1784.02 1999.17L1786.51 1994.19L1789.00 1991.70L1793.98 1989.21L1803.94 1989.21L1808.92 1991.70L1811.41 1994.19L1813.90 1999.17L1813.90 2004.15L1811.41 2009.13L1806.43 2016.60L1781.53 2041.50L1816.39 2041.50M1846.27 1989.21L1838.80 1991.70L1833.82 1999.17L1831.33 2011.62L1831.33 2019.09L1833.82 2031.54L1838.80 2039.01L1846.27 2041.50L1851.25 2041.50L1858.72 2039.01L1863.70 2031.54L1866.19 2019.09L1866.19 2011.62L1863.70 1999.17L1858.72 1991.70L1851.25 1989.21ZM1883.62 2001.66L1883.62 1999.17L1886.11 1994.19L1888.60 1991.70L1893.58 1989.21L1903.54 1989.21L1908.52 1991.70L1911.01 1994.19L1913.50 1999.17L1913.50 2004.15L1911.01 2009.13L1906.03 2016.60L1881.13 2041.50L1915.99 2041.50M1963.30 1996.68L1960.81 1991.70L1953.34 1989.21L1948.36 1989.21L1940.89 1991.70L1935.91 1999.17L1933.42 2011.62L1933.42 2024.07L1935.91 2034.03L1940.89 2039.01L1948.36 2041.50L1950.85 2041.50L1958.32 2039.01L1963.30 2034.03L1965.79 2026.56L1965.79 2024.07L1963.30 2016.60L1958.32 2011.62L1950.85 2009.13L1948.36 2009.13L1940.89 2011.62L1935.91 2016.60L1933.42 2024.07M1980.73 1979.25L1985.71 1984.23L1990.69 1991.70L1995.67 2001.66L1998.16 2014.11L1998.16 2024.07L1995.67 2036.52L1990.69 2046.48L1985.71 2053.95L1980.73 2058.93M131.71 1208.01L184.00 1188.09M131.71 1168.17L184.00 1188.09M149.14 1115.88L184.00 1115.88M159.10 1115.88L151.63 1108.41L149.14 1103.43L149.14 1095.96L151.63 1090.98L159.10 1088.49L184.00 1088.49M159.10 1088.49L151.63 1081.02L149.14 1076.04L149.14 1068.57L151.63 1063.59L159.10 1061.10L184.00 1061.10M149.14 1013.79L184.00 1013.79M156.61 1013.79L151.63 1018.77L149.14 1023.75L149.14 1031.22L151.63 1036.20L156.61 1041.18L164.08 1043.67L169.06 1043.67L176.53 1041.18L181.51 1036.20L184.00 1031.22L184.00 1023.75L181.51 1018.77L176.53 1013.79M149.14 966.48L188.98 966.48L196.45 968.97L198.94 971.46L201.43 976.44L201.43 983.91L198.94 988.89M156.61 966.48L151.63 971.46L149.14 976.44L149.14 983.91L151.63 988.89L156.61 993.87L164.08 996.36L169.06 996.36L176.53 993.87L181.51 988.89L184.00 983.91L184.00 976.44L181.51 971.46L176.53 966.48M149.14 946.56L184.00 946.56M159.10 946.56L151.63 939.09L149.14 934.11L149.14 926.64L151.63 921.66L159.10 919.17L184.00 919.17M149.14 899.25L184.00 899.25M131.71 876.84L174.04 876.84L181.51 874.35L184.00 869.37L184.00 864.39M149.14 884.31L149.14 866.88M149.14 849.45L174.04 849.45L181.51 846.96L184.00 841.98L184.00 834.51L181.51 829.53L174.04 822.06M149.14 822.06L184.00 822.06M131.71 774.75L184.00 774.75M156.61 774.75L151.63 779.73L149.14 784.71L149.14 792.18L151.63 797.16L156.61 802.14L164.08 804.63L169.06 804.63L176.53 802.14L181.51 797.16L184.00 792.18L184.00 784.71L181.51 779.73L176.53 774.75M164.08 757.32L164.08 727.44L159.10 727.44L154.12 729.93L151.63 732.42L149.14 737.40L149.14 744.87L151.63 749.85L156.61 754.83L164.08 757.32L169.06 757.32L176.53 754.83L181.51 749.85L184.00 744.87L184.00 737.40L181.51 732.42L176.53 727.44"/>
<path fill="none" stroke="#000" stroke-width="8.5" stroke-linejoin="miter" stroke-linecap="butt" d="M131.71 901.74L134.20 899.25L131.71 896.76L129.22 899.25L131.71 901.74"/>
<path fill="none" stroke="#ff5800" stroke-width="8.5" stroke-linejoin="miter" stroke-miterlimit="2.4" stroke-linecap="butt" d="M1492.52 1285.52L1539.14 1285.52M1499.18 1285.52L1494.74 1281.08L1492.52 1276.64L1492.52 1269.98L1494.74 1265.54L1499.18 1261.10L1505.84 1258.88L1510.28 1258.88L1516.94 1261.10L1521.38 1265.54L1523.60 1269.98L1523.60 1276.64L1521.38 1281.08L1516.94 1285.52M1505.84 1245.56L1505.84 1218.92L1501.40 1218.92L1496.96 1221.14L1494.74 1223.36L1492.52 1227.80L1492.52 1234.46L1494.74 1238.90L1499.18 1243.34L1505.84 1245.56L1510.28 1245.56L1516.94 1243.34L1521.38 1238.90L1523.60 1234.46L1523.60 1227.80L1521.38 1223.36L1516.94 1218.92M1492.52 1203.38L1523.60 1203.38M1505.84 1203.38L1499.18 1201.16L1494.74 1196.72L1492.52 1192.28L1492.52 1185.62M1492.52 1174.52L1523.60 1174.52M1476.98 1156.76L1523.60 1156.76M1501.40 1156.76L1494.74 1150.10L1492.52 1145.66L1492.52 1139.00L1494.74 1134.56L1501.40 1132.34L1523.60 1132.34M1505.84 1116.80L1505.84 1090.16L1501.40 1090.16L1496.96 1092.38L1494.74 1094.60L1492.52 1099.04L1492.52 1105.70L1494.74 1110.14L1499.18 1114.58L1505.84 1116.80L1510.28 1116.80L1516.94 1114.58L1521.38 1110.14L1523.60 1105.70L1523.60 1099.04L1521.38 1094.60L1516.94 1090.16M1476.98 1074.62L1523.60 1074.62M1492.52 1056.86L1523.60 1056.86M1492.52 1030.22L1494.74 1034.66L1499.18 1039.10L1505.84 1041.32L1510.28 1041.32L1516.94 1039.10L1521.38 1034.66L1523.60 1030.22L1523.60 1023.56L1521.38 1019.12L1516.94 1014.68L1510.28 1012.46L1505.84 1012.46L1499.18 1014.68L1494.74 1019.12L1492.52 1023.56ZM1492.52 996.92L1523.60 996.92M1501.40 996.92L1494.74 990.26L1492.52 985.82L1492.52 979.16L1494.74 974.72L1501.40 972.50L1523.60 972.50"/>
<path fill="none" stroke="#ff5800" stroke-width="8.5" stroke-linejoin="miter" stroke-linecap="butt" d="M1476.98 1176.74L1479.20 1174.52L1476.98 1172.30L1474.76 1174.52L1476.98 1176.74M1476.98 1059.08L1479.20 1056.86L1476.98 1054.64L1474.76 1056.86L1476.98 1059.08"/>
<path fill="none" stroke="#4600c0" stroke-width="8.5" stroke-linejoin="miter" stroke-miterlimit="2.4" stroke-linecap="butt" d="M1564.28 1673.04L1559.74 1675.26L1555.20 1679.70L1552.93 1684.14L1552.93 1693.02L1555.20 1697.46L1559.74 1701.90L1564.28 1704.12L1571.09 1706.34L1582.44 1706.34L1589.25 1704.12L1593.79 1701.90L1598.33 1697.46L1600.60 1693.02L1600.60 1684.14L1598.33 1679.70L1593.79 1675.26L1589.25 1673.04M1543.85 1621.98L1616.49 1661.94M1552.93 1597.56L1600.60 1615.32M1552.93 1597.56L1600.60 1579.80M1584.71 1608.66L1584.71 1586.46"/>
</svg></body></html>
